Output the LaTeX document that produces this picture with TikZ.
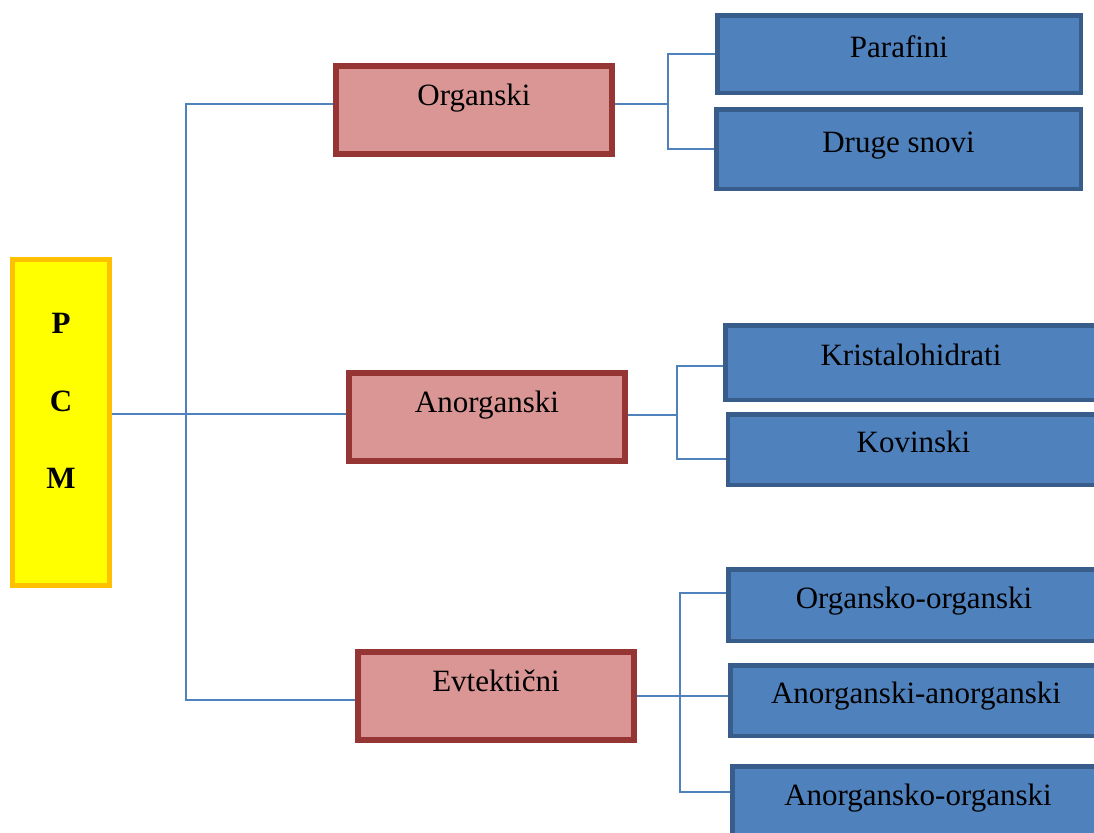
\documentclass[tikz,border=0pt]{standalone}
\usepackage{fontspec}
\setmainfont{Liberation Serif}
\usetikzlibrary{positioning}
\definecolor{PcmYellow}{RGB}{255,255,0}
\definecolor{PcmOrange}{RGB}{255,192,0}
\definecolor{GroupFill}{RGB}{217,150,148}
\definecolor{GroupLine}{RGB}{150,54,52}
\definecolor{TypeFill}{RGB}{79,129,189}
\definecolor{TypeLine}{RGB}{56,93,138}
\definecolor{LinkBlue}{RGB}{79,129,189}

\begin{document}
\begin{tikzpicture}[x=0.5pt,y=-0.5pt,
    txt/.style={font=\fontsize{15.5}{18}\selectfont},
    pcmbox/.style={draw=PcmOrange,fill=PcmYellow,line width=2.5pt,inner sep=0pt,
      minimum width=48.5pt,minimum height=163pt},
    pcmtext/.style={align=center,yshift=10.75pt,
      font=\fontsize{15.5}{38.75}\selectfont\bfseries},
    groupbox/.style={txt,draw=GroupLine,fill=GroupFill,line width=3pt,inner sep=0pt,
      minimum width=138pt,minimum height=44pt,text height=10.5pt,text depth=15.5pt},
    typebox/.style={txt,draw=TypeLine,fill=TypeFill,line width=2.25pt,inner sep=0pt,
      minimum width=185.75pt,minimum height=35.75pt,text height=10.5pt,text depth=7.5pt},
    link/.style={LinkBlue,line width=0.8pt}]
  \useasboundingbox (0,0) rectangle (1094,832);
  \clip (0,0) rectangle (1094,832);

  % root
  \node[pcmbox,label={[pcmtext]center:P\\C\\M}] (pcm) at (61,422.5) {};

  % groups
  \node[groupbox] (org) at (474,110) {Organski};
  \node[groupbox] (ano) at (487,417) {Anorganski};
  \node[groupbox] (evt) at (496,696) {Evtektični};

  % types
  \node[typebox,minimum width=181.75pt,minimum height=38.75pt] (par) at (899,54) {Parafini};
  \node[typebox,minimum width=182.25pt,minimum height=39.75pt] (dru) at (898.5,149) {Druge snovi};
  \node[typebox,minimum height=37.25pt] (kri) at (911,362.5) {Kristalohidrati};
  \node[typebox,minimum height=35.25pt] (kov) at (913.5,449.5) {Kovinski};
  \node[typebox] (oo) at (914,605) {Organsko-organski};
  \node[typebox,minimum height=35.25pt] (aa) at (916,700.5) {Anorganski-anorganski};
  \node[typebox] (ao) at (918,802) {Anorgansko-organski};

  % junctions
  \coordinate (jroot) at (186,414);
  \coordinate (jorg) at (668,104);
  \coordinate (jano) at (677,415);
  \coordinate (jevt) at (680,696);

  \draw[link] (pcm.east |- jroot) -- (ano.west |- jroot);
  \draw[link] ([yshift=3pt]org.west) -| (jroot) |- ([yshift=-2pt]evt.west);

  \draw[link] ([yshift=3pt]org.east) -- (jorg);
  \draw[link] (par.west) -| (jorg) |- (dru.west);

  \draw[link] (ano.east |- jano) -- (jano);
  \draw[link] ([yshift=-1.75pt]kri.west) -| (jano) |- ([yshift=-4.75pt]kov.west);

  \draw[link] (evt.east) -- (jevt);
  \draw[link] ([yshift=6pt]oo.west) -| (jevt);
  \draw[link] (jevt) -- (aa.west |- jevt);
  \draw[link] (jevt) |- ([yshift=5pt]ao.west);
\end{tikzpicture}
\end{document}
